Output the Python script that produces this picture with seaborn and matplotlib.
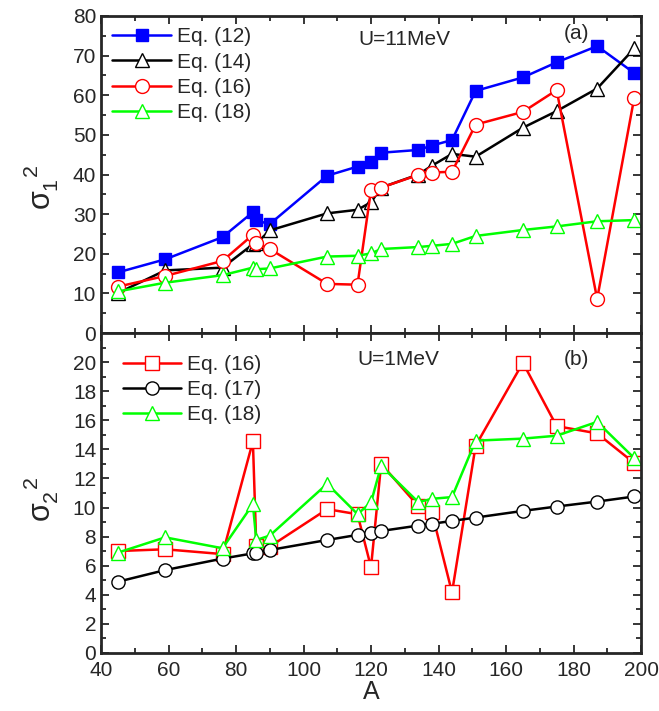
import matplotlib
matplotlib.use("Agg")
import matplotlib.pyplot as plt
import seaborn as sns
import numpy as np
import pandas as pd
from matplotlib.ticker import MultipleLocator

A = [45, 59, 76, 85, 86, 90, 107, 116, 120, 123, 134, 138, 144, 151, 165, 175, 187, 198]

# Panel (a), U = 11 MeV
eq12_a = [15.3, 18.6, 24.2, 30.5, 28.4, 27.5, 39.7, 42.0, 43.1, 45.5, 46.2, 47.3, 48.7, 61.1, 64.5, 68.3, 72.4, 65.6]
eq14_a = [10.1, 15.8, 16.5, 22.4, 22.6, 25.9, 30.2, 31.1, 33.0, 36.7, 40.0, 42.2, 45.2, 44.5, 51.8, 56.0, 61.7, 71.8]
eq16_a = [11.7, 14.4, 18.2, 24.8, 22.8, 21.2, 12.4, 12.2, 36.1, 36.7, 39.9, 40.5, 40.7, 52.6, 55.8, 61.3, 8.6, 59.4]
eq18_a = [10.5, 12.7, 14.6, 16.5, 16.1, 16.3, 19.3, 19.5, 20.1, 21.2, 21.7, 22.0, 22.5, 24.5, 26.0, 26.9, 28.2, 28.5]

# Panel (b), U = 1 MeV
eq16_b = [7.01, 7.13, 6.80, 14.55, 7.36, 7.31, 9.89, 9.54, 5.89, 13.0, 10.1, 9.7, 4.16, 14.25, 19.96, 15.6, 15.1, 13.06]
eq17_b = [4.90, 5.70, 6.49, 6.85, 6.90, 7.08, 7.77, 8.12, 8.28, 8.39, 8.76, 8.88, 9.08, 9.31, 9.77, 10.07, 10.41, 10.76]
eq18_b = [6.90, 7.95, 7.20, 10.23, 7.77, 8.07, 11.63, 9.55, 10.35, 12.88, 10.37, 10.6, 10.72, 14.6, 14.74, 14.94, 15.89, 13.4]

labels_a = ["Eq. (12)", "Eq. (14)", "Eq. (16)", "Eq. (18)"]
labels_b = ["Eq. (16)", "Eq. (17)", "Eq. (18)"]

sns.set_style("ticks")
plt.rcParams['font.family'] = ['Liberation Sans', 'DejaVu Sans']
plt.rcParams['mathtext.fontset'] = 'custom'
plt.rcParams['mathtext.rm'] = 'Liberation Sans'
plt.rcParams['mathtext.it'] = 'Liberation Sans'

fig = plt.figure(figsize=(6.59, 7.11), dpi=100)
axa = fig.add_axes([0.1533, 0.5316, 0.8194, 0.4459])
axb = fig.add_axes([0.1533, 0.0816, 0.8194, 0.4500])

FS = 15

def draw(ax, y, color, marker, ms, label, filled=False):
    df = pd.DataFrame({"A": A, "v": y})
    sns.lineplot(data=df, x="A", y="v", ax=ax, color=color, lw=1.8,
                 marker=marker, markersize=ms, estimator=None, sort=False,
                 markerfacecolor=(color if filled else 'white'),
                 markeredgecolor=color, markeredgewidth=1.0, label=label)

draw(axa, eq12_a, '#0000FF', 's', 8.5, labels_a[0], filled=True)
draw(axa, eq14_a, 'black', '^', 10, labels_a[1])
draw(axa, eq16_a, '#FF0000', 'o', 10, labels_a[2])
draw(axa, eq18_a, '#00FF00', '^', 10, labels_a[3])

draw(axb, eq16_b, '#FF0000', 's', 9.5, labels_b[0])
draw(axb, eq17_b, 'black', 'o', 9.5, labels_b[1])
draw(axb, eq18_b, '#00FF00', '^', 10, labels_b[2])

for ax in (axa, axb):
    ax.set_xlim(40, 200)
    ax.xaxis.set_major_locator(MultipleLocator(20))
    ax.xaxis.set_minor_locator(MultipleLocator(10))
    ax.tick_params(which='both', direction='in', top=True, right=True, width=1.3,
                   labelsize=FS)
    ax.tick_params(which='major', length=6)
    ax.tick_params(which='minor', length=3.5)
    for s in ax.spines.values():
        s.set_linewidth(2)
    ax.set_ylabel("")
    ax.set_xlabel("")

axa.set_ylim(0, 80)
axa.yaxis.set_major_locator(MultipleLocator(10))
axa.yaxis.set_minor_locator(MultipleLocator(5))
axa.tick_params(labelbottom=False)

axb.set_ylim(0, 22)
axb.yaxis.set_major_locator(MultipleLocator(2))
axb.yaxis.set_minor_locator(MultipleLocator(1))
axb.set_yticks(np.arange(0, 21, 2))
axb.tick_params(axis='x', which='major', pad=6)
axb.set_xlabel("A", fontsize=FS + 3, labelpad=0)

axa.set_ylabel(r"$\sigma_1^{\ \ 2}$", fontsize=22)
axb.set_ylabel(r"$\sigma_2^{\ \ 2}$", fontsize=22)
axa.yaxis.set_label_coords(-0.075, 0.46)
axb.yaxis.set_label_coords(-0.075, 0.48)

axa.legend(loc='upper left', frameon=False, fontsize=FS, handlelength=2.8,
           borderaxespad=0.15, labelspacing=0.3, handletextpad=0.3)
axb.legend(loc='upper left', frameon=False, fontsize=FS, handlelength=2.8,
           borderaxespad=0.65, labelspacing=0.3, handletextpad=0.3)

axa.text(130, 74, "U=11MeV", fontsize=FS, ha='center', va='center')
axa.text(181, 75.5, "(a)", fontsize=FS, ha='center', va='center')
axb.text(128, 20.2, "U=1MeV", fontsize=FS, ha='center', va='center')
axb.text(181, 20.2, "(b)", fontsize=FS, ha='center', va='center')

fig.savefig("out.png", dpi=100)
